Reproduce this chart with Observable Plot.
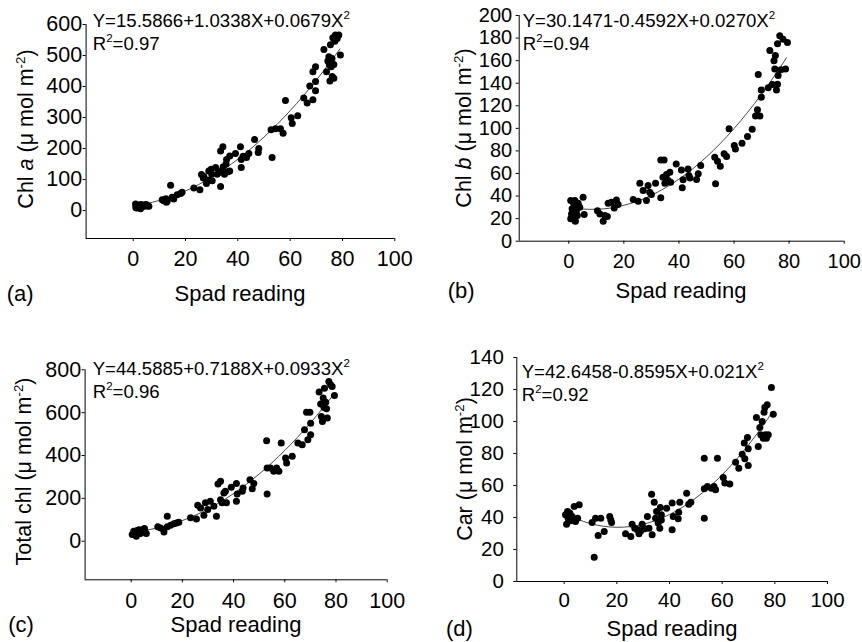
<!DOCTYPE html>
<html><head><meta charset="utf-8">
<script src="https://cdn.jsdelivr.net/npm/d3@7"></script>
<script src="https://cdn.jsdelivr.net/npm/@observablehq/plot@0.6"></script>
<style>
html,body{margin:0;padding:0;background:#fff;}
#root{position:relative;width:862px;height:642px;overflow:hidden;}
.panel{position:absolute;}
#overlay{position:absolute;left:0;top:0;pointer-events:none;}
</style></head><body><div id="root"></div>
<script>
// ---------- data (Spad reading, pigment) ----------
const chlA = [[0.9,21],[1,10],[1.3,8],[1.5,15],[2,18],[2.2,12],[2.5,10],[2.8,6],[3,20],[3.4,17],[4,13],[4.3,18],[5,20],[5.5,15],[6,14],
[11.1,35],[11.7,32],[12.5,38],[12.7,27],[13,30],[14.3,82],[14.9,43],[15.5,37],[16.8,51],[18.1,55],[18.7,59],
[23.2,73],[25.5,67],[26.1,116],[26.8,105],[27,110],[28,87],[28.9,99],[28.9,128],[29.8,133],[30,118],[30.2,96],[31.5,139],[32.1,117],[33,124],[33.4,78],[33.4,192],[34,130],[34.3,206],[34.4,141],[34.9,117],[35.5,150],[35.7,165],[36.2,125],[36.9,176],[36.9,128],
[39.1,184],[41,206],[41.3,139],[41.3,165],[42,175],[43.3,171],[44.2,184],[46.4,229],[47.8,187],[48,200],
[52.7,261],[53.1,171],[54.4,264],[56.3,264],[57.3,249],[58.2,355],[60.4,299],[60.8,281],[62.9,306],[65.2,363],[66.5,347],[67.5,402],[68.7,357],[68.7,448],[69.7,464],[69.7,416],[69.7,386],
[72.9,519],[73.9,448],[74.4,482],[74.8,496],[75,470],[75.2,418],[75.4,535],[75.7,464],[76,490],[76.1,432],[76.3,557],[76.7,427],[76.7,471],[77.1,546],[77.3,566],[78,555],[78.6,566],[79.2,502]];

const chlB = [[0.7,19.8],[0.7,36],[1,24],[1.2,28.7],[1.6,34.6],[2,31.6],[2.2,18.3],[2.2,36],[2.4,17.7],[2.8,27],[3.1,22.7],[3.4,33.7],[4,30],[5.2,39],[5.6,23.6],
[10.4,27],[11.3,24],[12.5,17.7],[13.1,22.7],[14,21.9],[14.3,33.7],[15.5,34.6],[16.5,29.5],[17.3,36.6],[17.9,32.5],
[23.4,36.9],[25.2,35.5],[25.8,51.4],[27,44.9],[28.2,36],[28.8,49.3],[29.4,43.4],[30,41.4],[31.5,51.4],[33.4,38.4],[33.4,72],[34.6,72],[34.2,56.7],[34.9,51.4],[35.5,59],[36.1,53.8],[36.7,61],[37,52.3],
[39,68.5],[40.9,63.2],[41.2,47.3],[41.5,54.4],[43.3,64],[43.6,58.2],[44,56.1],[46.4,54.7],[47,59.7],[47.9,67],
[53,74.4],[53.3,50.8],[54,70.9],[55,66.5],[56.4,77.4],[57.3,75],[58.2,99.6],[60.1,84.8],[60.5,81.8],[62.9,86.9],[64.9,92.8],[66.6,99.3],[67.8,111],[68.5,116.4],[68.8,147.7],[69.4,111],[69.9,134],[69.9,127.6],
[72.4,136],[73,169],[73.9,138.8],[74.5,160],[74.8,152.7],[75,164.5],[75.4,134],[75.8,175],[75.8,139],[76,146.8],[76.6,182],[77,152],[77.8,179],[78.7,152.7],[79.4,176]];

const totalChl = [[0.4,31],[1,47],[1.7,31],[2,23],[2.3,50],[3,54],[3.6,36],[4.3,54],[5.2,59],[5.9,36],
[10.4,67],[11.5,62],[12.8,43],[14.1,116],[14.1,67],[15.4,75],[16.7,82],[17.7,85],[18.6,89],
[23.2,109],[25.5,104],[26,168],[27.1,155],[28.4,121],[29,179],[29.9,148],[30.9,186],[32.3,163],[33.3,116],[33.9,267],[34.9,280],[34.9,194],[35.5,179],[36.2,225],[36.8,233],[37.2,179],
[39.1,252],[41.1,269],[41.1,186],[41.4,220],[43.4,233],[43.7,248],[46.4,287],[47.3,245],[47.9,269],
[52.9,469],[53.1,220],[53.1,342],[54.4,342],[55.7,326],[56.8,342],[57.7,326],[58.6,458],[60.3,388],[60.7,365],[62.9,396],[65.1,458],[66.8,450],[67.7,520],[68.5,602],[69,474],[69.8,602],[70.1,551],[70.1,497],
[73.4,696],[74,640],[74.3,582],[74.7,559],[75,668],[75.3,624],[75.5,714],[76,649],[76.3,618],[76.6,575],[77.2,745],[77.9,730],[78.5,722],[79.4,680]];

const car = [[0.5,41.7],[0.9,35.8],[1.3,43.8],[1.5,39.6],[2.2,42.7],[2.5,37.9],[3,40.6],[3.8,46.9],[4.3,37.5],[5.1,39.6],[5.7,47.9],
[10.6,36.9],[11.4,15.2],[11.9,39.6],[12.9,28.8],[13.9,39.6],[15.2,31.3],[17.3,40.6],[17.7,38.5],[18,36.9],
[23.3,29.8],[25.3,28.1],[25.8,35.8],[26.8,33.3],[27.8,32.3],[28.4,29.8],[29.1,31.7],[29.6,35.8],[30.6,32.9],[31.6,40.6],[32.2,33.3],[33.2,54.6],[33.4,29.2],[34.2,49.6],[34.7,39.6],[35.1,43.8],[35.7,36.5],[36.3,33.3],[36.5,46.3],[36.9,41.7],[36.9,38.5],
[38.9,45.8],[41,49],[41,32.3],[41.4,40.6],[43.3,39.2],[43.5,43.3],[43.9,49.6],[46.5,55.2],[47.3,48.3],[48.1,49.6],
[53.2,77],[53.2,39.6],[53.2,57.9],[54.4,59.4],[55.9,58.3],[56.9,59.4],[57.5,57.3],[58.2,77],[60.4,65],[61,61.5],[62.9,61],[65.1,74.6],[66.3,70.8],[67.6,79.6],[68.4,86.5],[68.6,76.7],[69.6,90],[69.9,82.9],[69.9,72.5],
[73,102.5],[73.7,84.4],[74.3,96.3],[74.7,91.7],[75.2,100],[75.6,89.6],[75.9,105.8],[76.2,108.8],[76.4,91.7],[76.8,89.6],[77.1,110.4],[77.5,91.7],[78.7,121.3],[79.4,104.6]];

// fitted curves
const fitX = [1,5,10,15,20,25,30,35,40,45,50,55,60,65,70,75,79];
const fitA = [16.7,22.5,32.7,46.4,63.4,83.9,107.7,134.9,165.6,199.6,237.0,277.9,322.1,369.7,420.7,475.1,521.0];
const fitB = [29.7,28.5,28.3,29.3,31.8,35.5,40.7,47.2,55.0,64.2,74.7,86.6,99.8,114.4,130.3,147.6,162.4];
const fitC = [45.4,50.5,61.1,76.4,96.3,120.9,150.1,184.0,222.6,265.9,313.8,366.4,423.6,485.5,552.1,623.3,683.7];
const fitD = [41.8,38.9,36.2,34.5,33.9,34.3,35.8,38.3,41.9,46.5,52.2,58.9,66.7,75.5,85.4,96.3,105.8];

// ticks and texts
const xTicks = [0,20,40,60,80,100];
const yTicksA = [0,100,200,300,400,500,600];
const yTicksB = [0,20,40,60,80,100,120,140,160,180,200];
const yTicksC = [0,200,400,600,800];
const yTicksD = [0,20,40,60,80,100,120,140];
const equations = ["Y=15.5866+1.0338X+0.0679X","Y=30.1471-0.4592X+0.0270X","Y=44.5885+0.7188X+0.0933X","Y=42.6458-0.8595X+0.021X"];
const r2Values = ["=0.97","=0.94","=0.96","=0.92"];
const yTitleStart = ["Chl ","Chl ","Total chl",  "Car"];
const yTitleItalic = ["a","b","",""];
const panelLetters = ["(a)","(b)","(c)","(d)"];
const xTitle = "Spad reading";

const FONT = '"Liberation Sans", Arial, Helvetica, sans-serif';
const root = document.getElementById("root");

const panels = [
  {data: chlA, fit: fitA, left: 0, top: 0, ml: 85.6, mr: 36.7, mt: 24, mb: 83, yDomain: [-90, 600], yTicks: yTicksA, fs: 21.5, yPad: 1, xPad: 9.5},
  {data: chlB, fit: fitB, left: 431, top: 0, ml: 87.7, mr: 18.3, mt: 15, mb: 80.3, yDomain: [0, 200], yTicks: yTicksB, fs: 20, yPad: 4, xPad: 10},
  {data: totalChl, fit: fitC, left: 0, top: 321, ml: 84.6, mr: 44.3, mt: 48.3, mb: 62.7, yDomain: [-180, 800], yTicks: yTicksC, fs: 21.5, yPad: 1, xPad: 9.5},
  {data: car, fit: fitD, left: 431, top: 321, ml: 85.3, mr: 35, mt: 36, mb: 61, yDomain: [0, 140], yTicks: yTicksD, fs: 20.5, yPad: 10, xPad: 8}
];

panels.forEach(cfg => {
  const pts = cfg.data.map(([x, y]) => ({x, y}));
  const fit = fitX.map((x, i) => ({x, y: cfg.fit[i]}));
  const chart = Plot.plot({
    width: 431, height: 321,
    marginLeft: cfg.ml, marginRight: cfg.mr, marginTop: cfg.mt, marginBottom: cfg.mb,
    style: {fontFamily: FONT, fontSize: cfg.fs + "px", color: "#000", background: "transparent", overflow: "visible"},
    x: {domain: [-18, 100], ticks: xTicks, tickSize: 3, tickPadding: cfg.xPad, label: null},
    y: {domain: cfg.yDomain, ticks: cfg.yTicks, tickSize: 3, tickPadding: cfg.yPad, label: null},
    marks: [
      Plot.ruleX([-18], {stroke: "#000", strokeWidth: 1}),
      Plot.ruleY([cfg.yDomain[0]], {stroke: "#000", strokeWidth: 1}),
      Plot.line(fit, {x: "x", y: "y", stroke: "#333", strokeWidth: 0.9, curve: "natural"}),
      Plot.dot(pts, {x: "x", y: "y", r: 3.5, fill: "#000", stroke: "none"})
    ]
  });
  const div = document.createElement("div");
  div.className = "panel";
  div.style.left = cfg.left + "px";
  div.style.top = cfg.top + "px";
  div.appendChild(chart);
  root.appendChild(div);
});

// ---------- text overlay ----------
const svg = d3.select(root).append("svg").attr("id", "overlay")
  .attr("width", 862).attr("height", 642)
  .style("font-family", FONT).style("fill", "#000");

function rich(x, y, size, parts, anchor, rotate) {
  const t = svg.append("text").attr("font-size", size).attr("text-anchor", anchor || "start");
  if (rotate) t.attr("transform", `translate(${x},${y}) rotate(-90)`);
  else t.attr("x", x).attr("y", y);
  let shift = 0;
  parts.forEach(p => {
    const s = t.append("tspan").text(p.t);
    const want = p.sup ? -p.sup : 0;
    if (want !== shift) { s.attr("dy", want - shift); shift = want; }
    if (p.sup) s.attr("font-size", p.size || size * 0.62);
    if (p.it) s.attr("font-style", "italic");
  });
  return t;
}

const eqPos = [[92.7, 27], [522.7, 27], [92.7, 375], [521.7, 377.5]];
const r2Pos = [[92.7, 49.5], [522.7, 49.5], [92.7, 398], [521.7, 401]];
const yTitlePos = [[32.5, 129], [471, 128], [30.7, 471.5], [471.7, 469]];
const xTitlePos = [[240, 301], [681, 298], [236, 632], [672, 635.5]];
const letterPos = [[6.7, 301], [447.7, 298], [8.3, 632], [446, 635.5]];

for (let i = 0; i < 4; i++) {
  rich(eqPos[i][0], eqPos[i][1], 18.6, [{t: equations[i]}, {t: "2", sup: 8}]);
  rich(r2Pos[i][0], r2Pos[i][1], 18.6, [{t: "R"}, {t: "2", sup: 8}, {t: r2Values[i]}]);
  const yt = [{t: yTitleStart[i]}];
  if (yTitleItalic[i]) yt.push({t: yTitleItalic[i], it: true});
  yt.push({t: " (\u03bc mol m"}, {t: "-2", sup: 8}, {t: ")"});
  rich(yTitlePos[i][0], yTitlePos[i][1], 21.5, yt, "middle", true);
  rich(xTitlePos[i][0], xTitlePos[i][1], 22, [{t: xTitle}], "middle");
  rich(letterPos[i][0], letterPos[i][1], 22, [{t: panelLetters[i]}]);
}
</script></body></html>
